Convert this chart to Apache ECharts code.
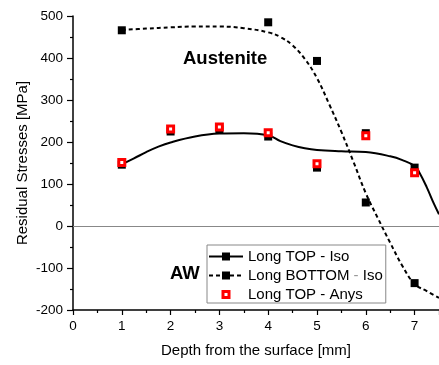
<!DOCTYPE html>
<html>
<head>
<meta charset="utf-8">
<script src="https://cdn.jsdelivr.net/npm/echarts@6/dist/echarts.min.js"></script>
<style>html,body{margin:0;padding:0;background:#fff}#c{width:439px;height:365px}</style>
</head>
<body>
<div id="c"></div>
<script>
// measured points
var depthPts = [1, 2, 3, 4, 5, 6, 7];
var topIso = [146, 225, 230, 213, 139, 221, 139];
var topAnys = [151, 231, 236, 222, 148, 215, 127];
var bottomDepth = [1, 4, 5, 6, 7];
var bottomIso = [466, 485, 393, 56, -136];

// fitted curves
var topFitX = [1, 1.25, 1.5, 1.75, 2, 2.5, 3, 3.5, 4, 4.25, 4.5, 4.75, 5, 5.5, 6, 6.5, 6.75, 7, 7.1, 7.25, 7.4, 7.5];
var topFitY = [147, 161, 176, 189, 199, 213, 220, 221, 216, 202, 192, 185, 181, 178, 176, 166, 157, 143, 127, 92, 52, 28];
var botFitX = [1, 1.5, 2, 2.5, 3, 3.5, 4, 4.25, 4.5, 4.75, 5, 5.25, 5.5, 5.75, 6, 6.25, 6.5, 6.75, 7, 7.25, 7.5];
var botFitY = [467, 470, 473, 475, 475, 471, 461, 450, 430, 398, 352, 290, 224, 152, 78, 18, -40, -95, -138, -155, -171];

var yTicks = [-200, -100, 0, 100, 200, 300, 400, 500];
var xTicks = [0, 1, 2, 3, 4, 5, 6, 7];

function zip(a, b) { return a.map(function (v, i) { return [v, b[i]]; }); }

var FONT = 'Liberation Sans, Arial, sans-serif';
var chart = echarts.init(document.getElementById('c'));
chart.setOption({
  animation: false,
  backgroundColor: '#fff',
  grid: { left: 73, right: 0, top: 16, bottom: 55, containLabel: false },
  textStyle: { fontFamily: FONT },
  legend: {
    orient: 'vertical', left: 207, top: 245,
    padding: [4, 3, 1, 1], itemGap: 4, itemWidth: 34, itemHeight: 10,
    borderColor: '#888', borderWidth: 1,
    data: ['Long TOP - Iso', 'Long BOTTOM - Iso',
      { name: 'Long TOP - Anys', icon: 'path://M0,0M10,10M2,2H8V8H2Z',
        itemStyle: { color: '#fff', borderColor: '#f00', borderWidth: 3 } }],
    formatter: function (n) { return n === 'Long BOTTOM - Iso' ? 'Long BOTTOM {g|-} Iso' : n; },
    textStyle: { fontFamily: FONT, fontSize: 15, color: '#000',
      rich: { g: { color: '#999', fontFamily: FONT, fontSize: 15 } } }
  },
  xAxis: {
    type: 'value', min: 0, max: 7.5, interval: 1,
    name: 'Depth from the surface [mm]', nameLocation: 'middle', nameGap: 33, nameMoveOverlap: false,
    nameTextStyle: { fontFamily: FONT, fontSize: 15, color: '#000' },
    axisLine: { onZero: false, lineStyle: { color: '#000', width: 1.5 } },
    axisTick: { show: true, length: 5, lineStyle: { color: '#000', width: 1.2 } },
    minorTick: { show: true, splitNumber: 2, length: 3, lineStyle: { color: '#000', width: 1.2 } },
    axisLabel: { fontFamily: FONT, fontSize: 13.5, color: '#000', margin: 9, showMaxLabel: false,
      formatter: function (v) { return xTicks.indexOf(v) >= 0 ? String(v) : ''; } },
    splitLine: { show: false }
  },
  yAxis: {
    type: 'value', min: -200, max: 500, interval: 100,
    name: 'Residual Stresses [MPa]', nameLocation: 'middle', nameGap: 43, nameMoveOverlap: false,
    nameTextStyle: { fontFamily: FONT, fontSize: 15, color: '#000' },
    axisLine: { show: true, lineStyle: { color: '#000', width: 1.5 } },
    axisTick: { show: true, length: 6, lineStyle: { color: '#000', width: 1.2 } },
    minorTick: { show: true, splitNumber: 2, length: 3, lineStyle: { color: '#000', width: 1.2 } },
    axisLabel: { fontFamily: FONT, fontSize: 13.5, color: '#000', margin: 10,
      formatter: function (v) { return yTicks.indexOf(v) >= 0 ? String(v) : ''; } },
    splitLine: { show: false }
  },
  series: [
    { name: 'Long TOP - Iso', type: 'line', data: zip(topFitX, topFitY), smooth: 0.4,
      showSymbol: false, symbol: 'rect', symbolSize: 8, itemStyle: { color: '#000', opacity: 1 },
      lineStyle: { color: '#000', width: 2 }, z: 3, silent: true,
      markLine: { silent: true, symbol: ['none', 'none'], label: { show: false },
        lineStyle: { color: '#888', width: 1, type: 'solid' }, data: [{ yAxis: 0 }] } },
    { name: 'Long BOTTOM - Iso', type: 'line', data: zip(botFitX, botFitY), smooth: 0.4,
      showSymbol: false, symbol: 'rect', symbolSize: 8, itemStyle: { color: '#000', opacity: 1 },
      lineStyle: { color: '#000', width: 2, type: [4, 3] }, z: 3, silent: true },
    { name: 'Long TOP - Iso', type: 'scatter', data: zip(depthPts, topIso), symbol: 'rect', symbolSize: 8,
      itemStyle: { color: '#000', opacity: 1 }, z: 4 },
    { name: 'Long BOTTOM - Iso', type: 'scatter', data: zip(bottomDepth, bottomIso), symbol: 'rect', symbolSize: 8,
      itemStyle: { color: '#000', opacity: 1 }, z: 4 },
    { name: 'Long TOP - Anys', type: 'scatter', data: zip(depthPts, topAnys), symbol: 'rect', symbolSize: 6,
      itemStyle: { color: '#fff', borderColor: '#f00', borderWidth: 3, opacity: 1 }, z: 5 }
  ],
  graphic: [
    { type: 'text', left: 183, top: 49, style: { text: 'Austenite', font: 'bold 18.5px ' + FONT, fill: '#000' } },
    { type: 'text', left: 170, top: 264, style: { text: 'AW', font: 'bold 18.5px ' + FONT, fill: '#000' } }
  ]
});
</script>
</body>
</html>
